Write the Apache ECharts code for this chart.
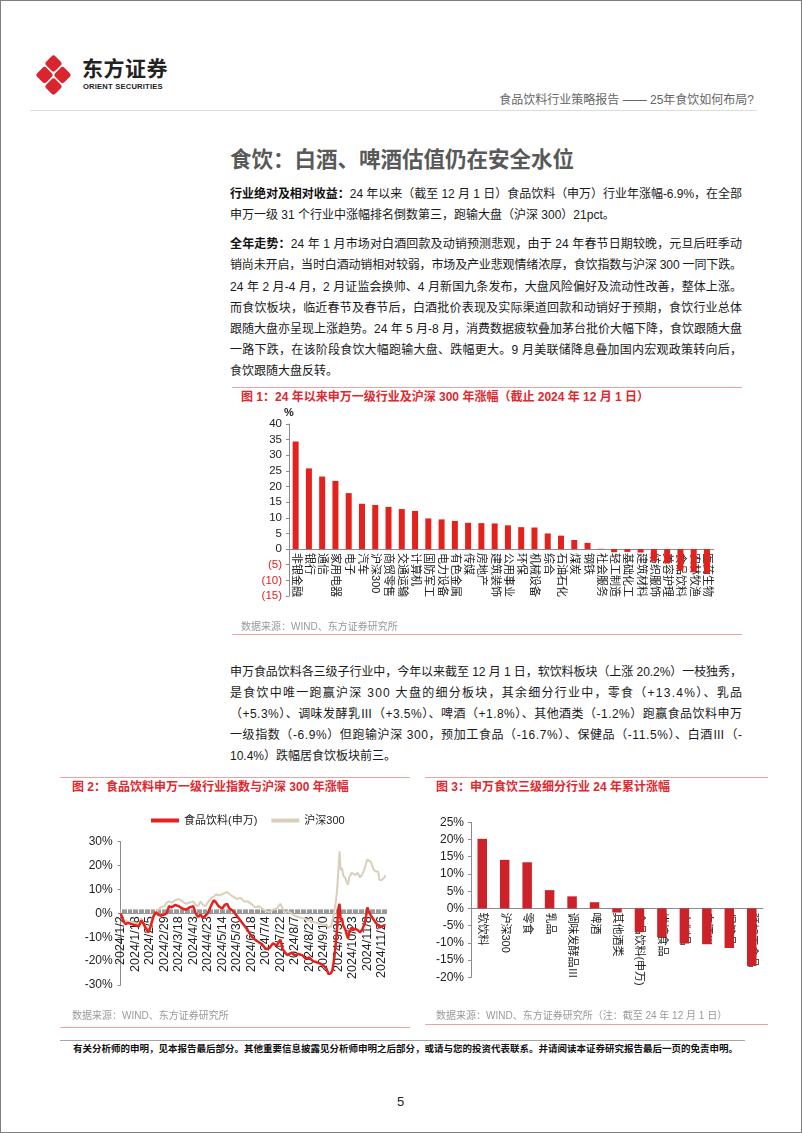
<!DOCTYPE html>
<html><head><meta charset="utf-8">
<script src="https://cdn.jsdelivr.net/npm/echarts@6/dist/echarts.min.js"></script>
<style>
body{margin:0;width:802px;height:1133px;position:relative;background:#fff;font-family:"Liberation Sans","Noto Sans CJK SC",sans-serif;overflow:hidden}
.frame{position:absolute;left:0;top:0;width:800px;height:1131px;border:1px solid #7f7f7f}
.abs{position:absolute;white-space:nowrap}
.ln{position:absolute;left:230px;font-size:12px;line-height:21px;height:21px;color:#1a1a1a;white-space:nowrap}
.ln b{font-weight:bold;color:#111}
.ctitle{position:absolute;font-size:12px;font-weight:bold;color:#e0282e;white-space:nowrap;line-height:14px}
.src{position:absolute;font-size:10px;color:#9a9a9a;white-space:nowrap;line-height:12px}
.rl{position:absolute;height:1px;background:#eea3a3}
</style></head>
<body>
<div class="frame"></div>
<!-- logo -->
<svg class="abs" style="left:34px;top:54px" width="40" height="42" viewBox="0 0 40 42">
  <g fill="#d9262e">
    <rect x="13" y="3" width="13" height="13" rx="3" transform="rotate(45 19.5 9.5)"/>
    <rect x="4" y="14.5" width="13" height="13" rx="3" transform="rotate(45 10.5 21)"/>
    <rect x="22" y="14.5" width="13" height="13" rx="3" transform="rotate(45 28.5 21)"/>
    <rect x="13" y="26" width="13" height="13" rx="3" transform="rotate(45 19.5 32.5)"/>
  </g>
</svg>
<div class="abs" style="left:82px;top:57px;font-size:21px;font-weight:bold;color:#222;letter-spacing:0.5px;line-height:24px">东方证券</div>
<div class="abs" style="left:83px;top:82px;font-size:7.6px;font-weight:bold;color:#222;letter-spacing:0.2px;line-height:9px">ORIENT SECURITIES</div>
<div class="abs" style="right:48px;top:93px;font-size:12px;color:#666;line-height:14px">食品饮料行业策略报告 —— 25年食饮如何布局?</div>
<div class="abs" style="left:30px;top:110px;width:727px;height:1px;background:#dcdcdc"></div>

<div class="abs" style="left:230px;top:147px;font-size:21.5px;font-weight:bold;color:#595959;line-height:26px">食饮：白酒、啤酒估值仍在安全水位</div>

<div class="ln j" style="top:184px"><span><b>行业绝对及相对收益：</b>24 年以来（截至 12 月 1 日）食品饮料（申万）行业年涨幅-6.9%，在全部</span></div>
<div class="ln" style="top:205px"><span>申万一级 31 个行业中涨幅排名倒数第三，跑输大盘（沪深 300）21pct。</span></div>

<div class="ln j" style="top:234px"><span><b>全年走势：</b>24 年 1 月市场对白酒回款及动销预测悲观，由于 24 年春节日期较晚，元旦后旺季动</span></div>
<div class="ln j" style="top:255px"><span>销尚未开启，当时白酒动销相对较弱，市场及产业悲观情绪浓厚，食饮指数与沪深 300 一同下跌。</span></div>
<div class="ln j" style="top:277px"><span>24 年 2 月-4 月，2 月证监会换帅、4 月新国九条发布，大盘风险偏好及流动性改善，整体上涨。</span></div>
<div class="ln j" style="top:298px"><span>而食饮板块，临近春节及春节后，白酒批价表现及实际渠道回款和动销好于预期，食饮行业总体</span></div>
<div class="ln j" style="top:319px"><span>跟随大盘亦呈现上涨趋势。24 年 5 月-8 月，消费数据疲软叠加茅台批价大幅下降，食饮跟随大盘</span></div>
<div class="ln j" style="top:340px"><span>一路下跌，在该阶段食饮大幅跑输大盘、跌幅更大。9 月美联储降息叠加国内宏观政策转向后，</span></div>
<div class="ln" style="top:361px"><span>食饮跟随大盘反转。</span></div>

<!-- chart 1 box -->
<div class="rl" style="left:232px;top:387px;width:510px"></div>
<div class="ctitle" style="left:241px;top:390px">图 1：24 年以来申万一级行业及沪深 300 年涨幅（截止 2024 年 12 月 1 日）</div>
<div id="c1" class="abs" style="left:232px;top:400px;width:500px;height:225px"></div>
<div class="src" style="left:241px;top:621px">数据来源：WIND、东方证券研究所</div>
<div class="rl" style="left:232px;top:634px;width:510px"></div>

<div class="ln j" style="top:662px"><span>申万食品饮料各三级子行业中，今年以来截至 12 月 1 日，软饮料板块（上涨 20.2%）一枝独秀，</span></div>
<div class="ln j" style="top:683px"><span>是食饮中唯一跑赢沪深 300 大盘的细分板块，其余细分行业中，零食（+13.4%）、乳品</span></div>
<div class="ln j" style="top:704px"><span>（+5.3%）、调味发酵乳Ⅲ（+3.5%）、啤酒（+1.8%）、其他酒类（-1.2%）跑赢食品饮料申万</span></div>
<div class="ln j" style="top:725px"><span>一级指数（-6.9%）但跑输沪深 300，预加工食品（-16.7%）、保健品（-11.5%）、白酒Ⅲ（-</span></div>
<div class="ln" style="top:746px"><span>10.4%）跌幅居食饮板块前三。</span></div>

<!-- chart 2 box -->
<div class="rl" style="left:60px;top:777px;width:350px"></div>
<div class="ctitle" style="left:72px;top:780px">图 2：食品饮料申万一级行业指数与沪深 300 年涨幅</div>
<div id="c2" class="abs" style="left:60px;top:800px;width:350px;height:210px"></div>
<div class="src" style="left:72px;top:1010px">数据来源：WIND、东方证券研究所</div>
<div class="rl" style="left:60px;top:1027px;width:350px"></div>

<!-- chart 3 box -->
<div class="rl" style="left:425px;top:777px;width:343px"></div>
<div class="ctitle" style="left:436px;top:780px">图 3：申万食饮三级细分行业 24 年累计涨幅</div>
<div id="c3" class="abs" style="left:425px;top:800px;width:345px;height:210px"></div>
<div class="src" style="left:436px;top:1010px">数据来源：WIND、东方证券研究所（注：截至 24 年 12 月 1 日）</div>
<div class="rl" style="left:425px;top:1024px;width:343px"></div>

<!-- footer -->
<div class="abs" style="left:60px;top:1040px;width:685px;height:1px;background:#a6a6a6"></div>
<div class="abs" style="left:73px;top:1043px;font-size:9.5px;font-weight:bold;color:#111;line-height:12px">有关分析师的申明，见本报告最后部分。其他重要信息披露见分析师申明之后部分，或请与您的投资代表联系。并请阅读本证券研究报告最后一页的免责申明。</div>
<div class="abs" style="left:397px;top:1094px;font-size:13px;color:#222;line-height:16px">5</div>

<script>
// ---------- data ----------
const cats1 = ['非银金融','银行','通信','家用电器','电子','汽车','沪深300','商贸零售','交通运输','计算机','国防军工','电力设备','有色金属','传媒','房地产','建筑装饰','公用事业','环保','机械设备','综合','石油石化','煤炭','钢铁','社会服务','轻工制造','基础化工','建筑材料','纺织服饰','美容护理','食品饮料','农林牧渔','医药生物'];
const vals1 = [34.4,25.8,23.2,21.8,17.9,14.5,14.1,13.5,12.8,12.2,9.8,9.5,9.0,8.4,8.3,8.2,7.6,7.0,6.9,5.0,4.3,2.9,2.0,0.1,-1.0,-0.9,-1.1,-4.0,-4.6,-6.9,-7.3,-7.8];

const dateLabels = ['2024/1/2','2024/1/18','2024/2/5','2024/2/29','2024/3/18','2024/4/3','2024/4/23','2024/5/14','2024/5/30','2024/6/18','2024/7/4','2024/7/22','2024/8/7','2024/8/23','2024/9/10','2024/9/30','2024/10/23','2024/11/8','2024/11/26'];
// trading-day index (from 2024/1/2) of each sampled point
const dayIdx = [0,2,4,6,9,12,15,17,19,21,23,24,25,27,29,31,33,36,38,40,42,45,48,51,54,57,60,62,64,66,68,70,72,75,77,79,81,84,86,88,90,93,96,99,102,105,108,111,114,117,120,123,126,129,132,134,136,138,141,144,147,150,153,156,159,162,165,168,170,172,174,175,176,177,178,179,180,181,182,183,184,186,187,188,189,191,192,194,196,198,200,202,203,204,205,207,209,211,213,214,216,218,219];
const hs300 = [0,-2.5,-3,-3.5,-3.5,-4,-5,-2,-4,-6,-7.5,-7,-4,-1,0,1.5,2.5,3,4.5,5,4.5,5.5,6,5,4,4.5,5,3.5,3,5,3.5,3,4.5,6.5,7,8,7.5,8,8.5,9,8,7,6,6.5,5,5,4,2.5,3,2,1,0.5,1.5,2,4,2,0,1,0,-1,-1.5,-2,-2.5,-3,-3.5,-4,-4.5,-5,-5,-6,-5.5,-5,-1,2,5,10,18,26,18,19,16,14.5,13,12,15,17,16.5,16,17,15,16.5,19,21,22.5,22,21.5,18.5,17.5,17.5,14,14,15,16];
const food = [0,-3,-4.5,-4,-4.5,-5,-5.5,-3,-4.5,-6.5,-8,-8.5,-5,-1.5,0.5,-0.5,-1,-0.5,0,3,2.5,3.5,3,2,1.5,2.5,3,0,-1.5,-0.5,-2,-1,0,3.5,5.5,4.5,3,2,3.5,4,2,1,-1,-3,-5,-7,-9.5,-11,-12,-13,-15,-14.5,-12.5,-13.5,-11,-15,-16.5,-17.5,-16.5,-17.5,-17,-17.5,-19,-18.5,-20,-20.5,-21,-22,-23,-25.5,-25,-24,-21,-17,-12,-6,2,4,-3,-2,-5,-7,-9,-10.5,-8,-6,-7,-6.5,-7,-8,-6.5,-4,-1,2.5,1,-1,-2.5,-4,-5,-6,-5.5,-5,-5];

const cats3 = ['软饮料','沪深300','零食','乳品','调味发酵品Ⅲ','啤酒','其他酒类','食品饮料(申万)','烘焙食品','肉制品','白酒Ⅲ','保健品','预加工食品'];
const vals3 = [20.2,14.1,13.4,5.3,3.5,1.8,-1.2,-6.9,-8.4,-10.2,-10.4,-11.5,-16.7];

// ---------- justify text lines ----------
document.querySelectorAll('.ln.j').forEach(el => {
  const sp = el.querySelector('span');
  const w = sp.getBoundingClientRect().width;
  const n = sp.textContent.length;
  const ls = (512 - w) / (n - 1);
  sp.style.letterSpacing = ls + 'px';
});

const FF = '"Liberation Sans","Noto Sans CJK SC",sans-serif';
const AX = '#8c8c8c';
// distance (px) from grid bottom up to the zero line
const zeroOffset = (min, max, h) => -h * (0 - min) / (max - min);

// ---------- chart 1 ----------
const G1 = {min: -15, max: 40, h: 172};
const c1 = echarts.init(document.getElementById('c1'));
c1.setOption({
  animation: false,
  textStyle: {fontFamily: FF},
  grid: {left: 57, top: 24, width: 424.6, height: G1.h, containLabel: false, outerBoundsMode: 'none'},
  xAxis: {
    type: 'category', data: cats1,
    offset: zeroOffset(G1.min, G1.max, G1.h),
    axisLine: {onZero: false, lineStyle: {color: AX}},
    axisTick: {show: false},
    axisLabel: {interval: 0, rotate: -90, fontSize: 11, color: '#222', margin: 4, fontFamily: FF}
  },
  yAxis: {
    type: 'value', min: G1.min, max: G1.max, interval: 5,
    name: '%', nameGap: 3, nameTextStyle: {fontSize: 11, color: '#222', fontWeight: 'bold', fontFamily: FF},
    axisLine: {show: true, lineStyle: {color: AX}},
    axisTick: {show: true, length: 3, lineStyle: {color: AX}},
    splitLine: {show: false},
    axisLabel: {
      fontSize: 11.5, margin: 7, fontFamily: FF,
      formatter: v => v < 0 ? '(' + (-v) + ')' : String(v),
      color: v => Number(v) < 0 ? '#e0201f' : '#222'
    }
  },
  series: [{type: 'bar', data: vals1, barWidth: 6, itemStyle: {color: '#e3211d'}}]
});

// ---------- chart 2 ----------
const G2 = {min: -30, max: 30, h: 143.3};
const c2 = echarts.init(document.getElementById('c2'));
c2.setOption({
  animation: false,
  textStyle: {fontFamily: FF},
  legend: {
    data: ['食品饮料(申万)', '沪深300'], left: 86, top: 10,
    icon: 'rect', itemWidth: 28, itemHeight: 4, itemGap: 14,
    textStyle: {fontSize: 11, color: '#222', fontFamily: FF}
  },
  grid: {left: 60.7, top: 41.7, width: 266, height: G2.h, containLabel: false, outerBoundsMode: 'none'},
  xAxis: {
    type: 'value', min: 0, max: 220, interval: 12,
    offset: zeroOffset(G2.min, G2.max, G2.h),
    axisLine: {onZero: false, lineStyle: {color: '#9a9a9a', width: 1}},
    axisTick: {show: true, inside: true, length: 4, lineStyle: {color: '#9a9a9a'}},
    minorTick: {show: true, splitNumber: 12, length: 4, lineStyle: {color: '#9a9a9a'}},
    splitLine: {show: false},
    axisLabel: {
      rotate: 90, fontSize: 12.5, color: '#222', margin: 3, fontFamily: FF,
      showMaxLabel: false, hideOverlap: false,
      formatter: v => (v % 12 === 0 && dateLabels[v / 12]) ? dateLabels[v / 12] : ''
    }
  },
  yAxis: {
    type: 'value', min: G2.min, max: G2.max, interval: 10,
    axisLine: {show: true, lineStyle: {color: AX}},
    axisTick: {show: true, length: 3, lineStyle: {color: AX}},
    splitLine: {show: false},
    axisLabel: {formatter: '{value}%', fontSize: 12, color: '#222', margin: 8, fontFamily: FF}
  },
  series: [
    {name: '食品饮料(申万)', type: 'line', z: 4, symbol: 'none', lineStyle: {color: '#e3211d', width: 2.5}, itemStyle: {color: '#e3211d'},
     data: dayIdx.map((d, i) => [d, food[i]])},
    {name: '沪深300', type: 'line', z: 3, symbol: 'none', lineStyle: {color: '#d9cfbb', width: 2}, itemStyle: {color: '#d9cfbb'},
     data: dayIdx.map((d, i) => [d, hs300[i]])}
  ]
});

// ---------- chart 3 ----------
const G3 = {min: -20, max: 25, h: 155};
const c3 = echarts.init(document.getElementById('c3'));
c3.setOption({
  animation: false,
  textStyle: {fontFamily: FF},
  grid: {left: 46, top: 22.3, width: 292, height: G3.h, containLabel: false, outerBoundsMode: 'none'},
  xAxis: {
    type: 'category', data: cats3,
    offset: zeroOffset(G3.min, G3.max, G3.h),
    axisLine: {onZero: false, lineStyle: {color: AX}},
    axisTick: {show: false},
    axisLabel: {interval: 0, rotate: -90, fontSize: 11, color: '#222', margin: 4, fontFamily: FF}
  },
  yAxis: {
    type: 'value', min: G3.min, max: G3.max, interval: 5,
    axisLine: {show: true, lineStyle: {color: AX}},
    axisTick: {show: true, length: 3, lineStyle: {color: AX}},
    splitLine: {show: false},
    axisLabel: {formatter: '{value}%', fontSize: 12, color: '#222', margin: 7, fontFamily: FF}
  },
  series: [{type: 'bar', data: vals3, barWidth: 9.5, itemStyle: {color: '#cc2229'}}]
});
</script>
</body></html>
